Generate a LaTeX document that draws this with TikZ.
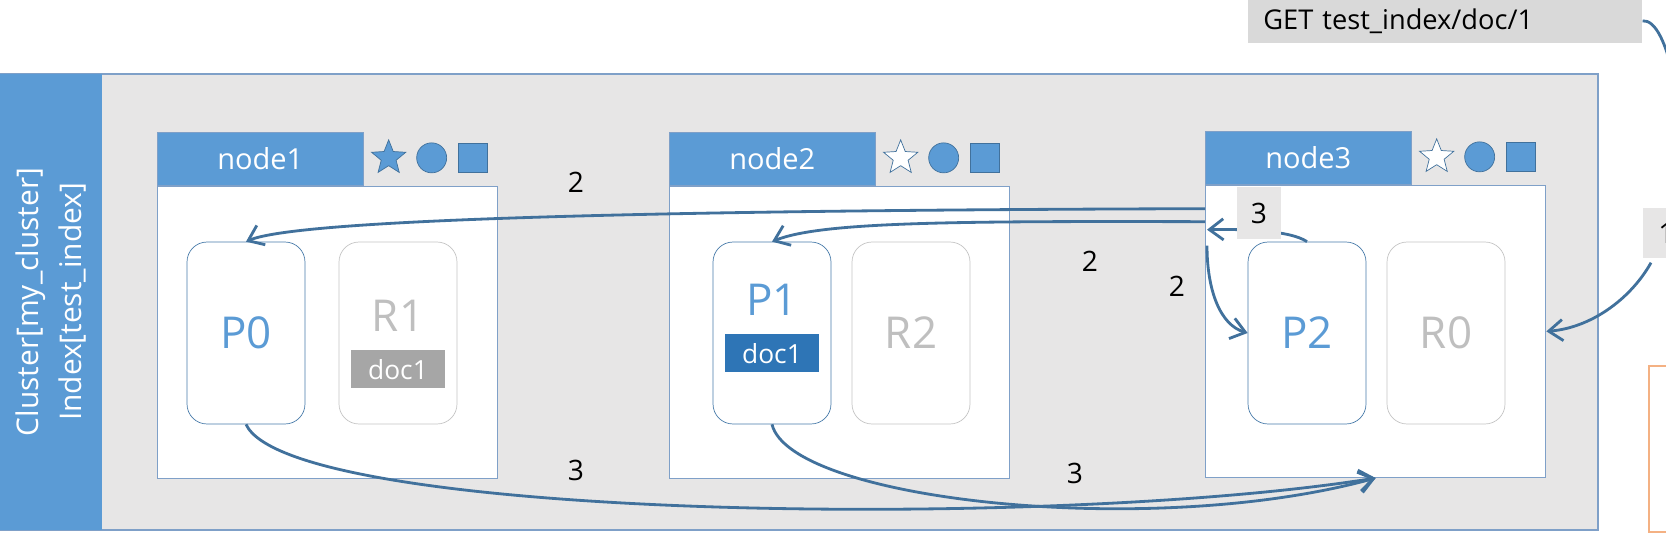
\documentclass[tikz,border=0pt]{standalone}
\usepackage{fontspec}
\setmainfont{Open Sans}
\usetikzlibrary{arrows.meta, positioning, shapes.geometric, calc}
\definecolor{color1}{RGB}{91,155,213}
\definecolor{color2}{RGB}{65,113,156}
\definecolor{color3}{RGB}{231,230,230}
\definecolor{color4}{RGB}{46,117,182}
\definecolor{color5}{RGB}{166,166,166}
\definecolor{color6}{RGB}{127,160,200}
\definecolor{color7}{RGB}{244,177,131}
\definecolor{color8}{RGB}{191,191,191}
\definecolor{color9}{RGB}{217,217,217}

\begin{document}
\begin{tikzpicture}
	[
	x=0.02cm, y=-0.02cm,
        cabecera/.style={
            rectangle,
            draw=color6,
            fill=color1,
            text=white,
            minimum width=4.12cm,
            minimum height=1.06cm,
            inner sep=0pt,
            font=\fontsize{16.5}{19}\selectfont
        },
        cuerpo/.style={
            rectangle,
            draw=color6,
            line width=0.8pt,
            fill=white,
            minimum width=6.8cm,
            minimum height=5.84cm,
            inner sep=0pt,
            anchor=north west
        },
        primario/.style={
            rectangle,
            rounded corners=0.4cm,
            draw=color1!80!black,
            fill=white,
            text=color1,
            minimum width=2.36cm,
            minimum height=3.64cm,
            inner sep=0pt,
            font=\fontsize{25}{30}\selectfont
        },
        replica/.style={
            primario,
            draw=color8!90!white,
            text=color8
        },
        etiquetaDoc/.style={
            rectangle,
            fill=color4,
            text=white,
            minimum width=1.88cm,
            minimum height=0.76cm,
            inner sep=0pt,
            font=\fontsize{15}{18}\selectfont
        },
        estrellaLlena/.style={
            star, star points=5, star point ratio=2.3,
            draw=color2, fill=color1,
            minimum size=0.72cm, inner sep=0pt
        },
        estrellaVacia/.style={
            estrellaLlena,
            fill=white
        },
        circulo/.style={
            circle, draw=color2, fill=color1,
            minimum size=0.6cm, inner sep=0pt
        },
        cuadrado/.style={
            rectangle, draw=color2, fill=color1,
            minimum size=0.58cm, inner sep=0pt
        },
        numero/.style={
            font=\fontsize{16}{19}\selectfont,
            inner sep=1pt
        },
        flecha/.style={
            -{Straight Barb[length=8pt,width=12pt]},
            draw=color2,
            line width=1.6pt
        }
    ]
    \clip (0,0) rectangle (1666,544);
    \useasboundingbox (0,0) rectangle (1666,544);
    \fill[white] (0,0) rectangle (1666,544);

    % cluster
    \filldraw[fill=color3, draw=color6, line width=0.9pt] (0,74) rectangle (1598,530);
    \fill[color1] (0,74) rectangle (102,530);
    \node(etiquetaCluster) [rotate=90, align=center, text=white, font=\fontsize{17}{24}\selectfont] at (51,302) {Cluster[my\_cluster]\\Index[test\_index]};

    % nodos
    \node(cab1) [cabecera, anchor=north west] at (157,132) {node1};
    \node(cab2) [cabecera, anchor=north west] at (669,132) {node2};
    \node(cab3) [cabecera, anchor=north west] at (1205,131) {node3};
    \node(cuerpo1) [cuerpo] at (cab1.south west) {};
    \node(cuerpo2) [cuerpo] at (cab2.south west) {};
    \node(cuerpo3) [cuerpo] at (cab3.south west) {};

    \node(estrella1) [estrellaLlena] at ($(cab1.east)+(25,-1)$) {};
    \node(circulo1) [circulo] at ($(cab1.east)+(68,-1)$) {};
    \node(cuadrado1) [cuadrado] at ($(cab1.east)+(109,-1)$) {};
    \node(estrella2) [estrellaVacia] at ($(cab2.east)+(25,-1)$) {};
    \node(circulo2) [circulo] at ($(cab2.east)+(68,-1)$) {};
    \node(cuadrado2) [cuadrado] at ($(cab2.east)+(109,-1)$) {};
    \node(estrella3) [estrellaVacia] at ($(cab3.east)+(25,-1)$) {};
    \node(circulo3) [circulo] at ($(cab3.east)+(68,-1)$) {};
    \node(cuadrado3) [cuadrado] at ($(cab3.east)+(109,-1)$) {};

    % shards
    \node(p0) [primario] at (246,333) {P0};
    \node(r1) [replica] at (398,333) {};
    \node(textoR1) [text=color8, font=\fontsize{25}{30}\selectfont] at (398,316) {R1};
    \node(doc1r) [etiquetaDoc, fill=color5, below=0.24cm of textoR1] {doc1};
    \node(p1) [primario] at (772,333) {};
    \node(textoP1) [text=color1, font=\fontsize{25}{30}\selectfont] at (772,300) {P1};
    \node(doc1p) [etiquetaDoc, below=0.24cm of textoP1] {doc1};
    \node(r2) [replica] at (911,333) {R2};
    \node(p2) [primario] at (1307,333) {P2};
    \node(r0) [replica] at (1446,333) {R0};

    % peticion
    \node(get) [fill=color9, anchor=north west, minimum width=7.88cm, minimum height=0.9cm, inner xsep=0.3cm, text width=7.28cm, align=left, font=\fontsize{15.5}{18}\selectfont] at (1248,-2) {GET test\_index/doc/1};
    \node(uno) [fill=color3, anchor=north west, minimum height=1cm, inner xsep=0.3cm, inner ysep=0pt, text width=0.6cm, align=left, font=\fontsize{16}{19}\selectfont] at (1643,208) {1};
    \node(cajaNaranja) [draw=color7, line width=1.4pt, fill=white, anchor=north west, minimum width=2cm, minimum height=3.32cm] at (1648,365) {};

    \coordinate(salidaP0) at ($(cuerpo3.north west)+(0,24)$);
    \coordinate(salidaP1) at ($(cuerpo3.north west)+(0,37)$);
    \coordinate(llegada3) at ($(cuerpo3.north west)+(2,45)$);
    \coordinate(salida2) at ($(cuerpo3.north west)+(2,61)$);
    \coordinate(salida1) at ($(uno.south west)+(8,4)$);

    \draw[flecha, -] (get.east) .. controls (1668,18) and (1690,120) .. (uno.north);
    \draw[flecha] (salida1) .. controls (1630,300) and (1590,328) .. (cuerpo3.east);
    \draw[flecha] (salidaP0) .. controls (700,210) and (300,218) .. (p0.north);
    \draw[flecha] (salidaP1) .. controls (950,221) and (820,222) .. (p1.north);
    \draw[flecha] (p2.north) .. controls (1290,230) and (1240,229) .. (llegada3);
    \draw[flecha] (salida2) .. controls (1207,290) and (1220,325) .. (p2.west);
    \draw[flecha] (p0.south) .. controls (290,520) and (1050,530) .. (cuerpo3.south);
    \draw[flecha] (p1.south) .. controls (790,500) and (1150,540) .. (cuerpo3.south);

    \node(tres3) [numero, fill=color3, minimum width=0.88cm, minimum height=1.06cm] at (1259,213) {3};
    \node(dos1) [numero] at (576,182) {2};
    \node(dos2) [numero] at (1090,261) {2};
    \node(dos3) [numero] at (1177,286) {2};
    \node(tres1) [numero] at (576,470) {3};
    \node(tres2) [numero] at (1075,473) {3};
\end{tikzpicture}
\end{document}
